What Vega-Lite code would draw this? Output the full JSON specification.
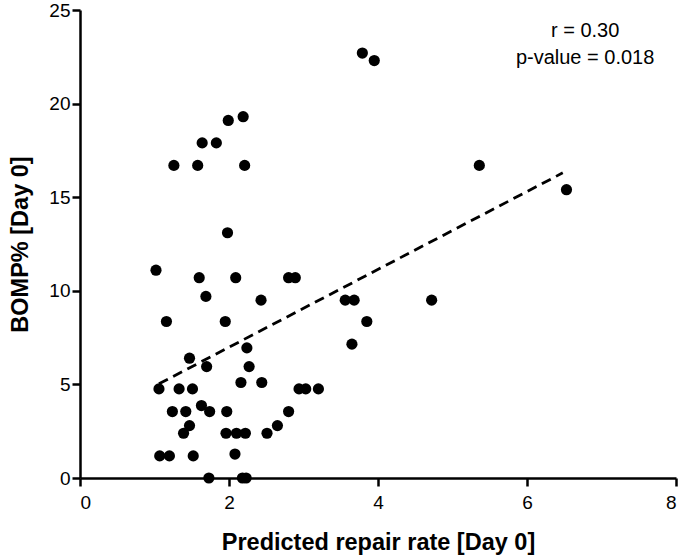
{
  "$schema": "https://vega.github.io/schema/vega-lite/v6.json",
  "autosize": {"type": "none"},
  "padding": {"left": 80, "top": 10, "right": 9, "bottom": 81},
  "width": 596,
  "height": 468,
  "background": "white",
  "config": {
    "view": {"stroke": null},
    "font": "Liberation Sans",
    "axis": {
      "grid": false,
      "domainColor": "black",
      "domainWidth": 2.5,
      "tickColor": "black",
      "tickWidth": 2.5,
      "tickSize": 8,
      "labelColor": "black",
      "labelFontSize": 19,
      "labelFont": "Liberation Sans",
      "titleColor": "black",
      "titleFont": "Liberation Sans",
      "titleFontSize": 23.5,
      "titleFontWeight": "bold"
    }
  },
  "datasets": {
    "pts": [
      {"x": 3.79, "y": 22.7}, {"x": 3.95, "y": 22.3},
      {"x": 1.99, "y": 19.1}, {"x": 2.19, "y": 19.3},
      {"x": 1.64, "y": 17.9}, {"x": 1.83, "y": 17.9},
      {"x": 1.26, "y": 16.7}, {"x": 1.58, "y": 16.7}, {"x": 2.21, "y": 16.7},
      {"x": 5.36, "y": 16.7}, {"x": 6.53, "y": 15.4},
      {"x": 1.98, "y": 13.1},
      {"x": 1.02, "y": 11.1},
      {"x": 1.60, "y": 10.7}, {"x": 2.09, "y": 10.7}, {"x": 2.80, "y": 10.7}, {"x": 2.89, "y": 10.7},
      {"x": 1.69, "y": 9.7},
      {"x": 2.43, "y": 9.5}, {"x": 3.56, "y": 9.5}, {"x": 3.68, "y": 9.5}, {"x": 4.72, "y": 9.5},
      {"x": 1.16, "y": 8.36}, {"x": 1.95, "y": 8.36}, {"x": 3.85, "y": 8.36},
      {"x": 3.65, "y": 7.15},
      {"x": 2.24, "y": 6.95},
      {"x": 1.47, "y": 6.4},
      {"x": 1.70, "y": 5.95}, {"x": 2.27, "y": 5.95},
      {"x": 2.16, "y": 5.1}, {"x": 2.44, "y": 5.1},
      {"x": 1.06, "y": 4.76}, {"x": 1.33, "y": 4.76}, {"x": 1.51, "y": 4.76},
      {"x": 2.94, "y": 4.76}, {"x": 3.03, "y": 4.76}, {"x": 3.20, "y": 4.76},
      {"x": 1.63, "y": 3.87},
      {"x": 1.24, "y": 3.55}, {"x": 1.42, "y": 3.55}, {"x": 1.74, "y": 3.55}, {"x": 1.97, "y": 3.55}, {"x": 2.80, "y": 3.55},
      {"x": 1.47, "y": 2.80}, {"x": 2.65, "y": 2.80},
      {"x": 1.39, "y": 2.39}, {"x": 1.96, "y": 2.39}, {"x": 2.10, "y": 2.39}, {"x": 2.22, "y": 2.39}, {"x": 2.51, "y": 2.39},
      {"x": 1.07, "y": 1.18}, {"x": 1.20, "y": 1.18}, {"x": 1.52, "y": 1.18},
      {"x": 2.08, "y": 1.28},
      {"x": 1.73, "y": 0}, {"x": 2.18, "y": 0}, {"x": 2.23, "y": 0}
    ],
    "fit": [
      {"x": 1.06, "y": 5.03}, {"x": 6.48, "y": 16.3}
    ],
    "ann": [
      {"x": 6.78, "y": 23.9, "label": "r = 0.30"},
      {"x": 6.78, "y": 22.45, "label": "p-value = 0.018"}
    ]
  },
  "layer": [
    {
      "data": {"name": "fit"},
      "mark": {"type": "line", "color": "black", "strokeWidth": 2.8, "strokeDash": [10, 6], "clip": false},
      "encoding": {
        "x": {"field": "x", "type": "quantitative", "scale": {"domain": [0, 8], "nice": false},
          "axis": {"values": [0, 2, 4, 6, 8], "format": "d", "title": "Predicted repair rate [Day 0]", "titlePadding": 18, "labelPadding": 7}},
        "y": {"field": "y", "type": "quantitative", "scale": {"domain": [0, 25], "nice": false},
          "axis": {"values": [0, 5, 10, 15, 20, 25], "format": "d", "title": "BOMP% [Day 0]", "titlePadding": 16, "labelPadding": 2}}
      }
    },
    {
      "data": {"name": "pts"},
      "mark": {"type": "point", "filled": true, "color": "black", "opacity": 1, "size": 125, "clip": false},
      "encoding": {
        "x": {"field": "x", "type": "quantitative"},
        "y": {"field": "y", "type": "quantitative"}
      }
    },
    {
      "data": {"name": "ann"},
      "mark": {"type": "text", "fontSize": 20, "color": "black", "align": "center", "baseline": "middle"},
      "encoding": {
        "x": {"field": "x", "type": "quantitative"},
        "y": {"field": "y", "type": "quantitative"},
        "text": {"field": "label"}
      }
    }
  ]
}
